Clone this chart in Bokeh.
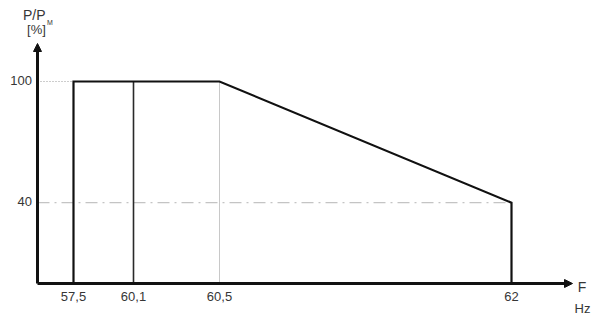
from bokeh.plotting import figure
from bokeh.models import Range1d, Arrow, NormalHead
from bokeh.core.properties import value
from bokeh.embed import file_html
from bokeh.resources import INLINE

# ---- data -------------------------------------------------------------
freq_labels = ["57,5", "60,1", "60,5", "62"]     # frequency ticks (Hz)
x_slot = [73, 133, 219, 511]                       # schematic (non-linear) axis slots
power_pct = [100, 100, 100, 40]                    # P/PM [%] at each frequency
y_ticks = [100, 40]
y_tick_labels = ["100", "40"]

W, H = 600, 317
px_per_unit = 2.02
axis_px = 283
y_top = axis_px / px_per_unit
y_bot = -(H - axis_px) / px_per_unit
x_axis_left = 37
x_axis_tip = 572
y_axis_tip = (axis_px - 43) / px_per_unit

FONT = value("Liberation Sans")
TXT = "#363636"

p = figure(width=W, height=H, output_backend="svg", toolbar_location=None,
           x_range=Range1d(0, W), y_range=Range1d(y_bot, y_top),
           min_border=0, min_border_left=0, min_border_right=0,
           min_border_top=0, min_border_bottom=0)
p.axis.visible = False
p.grid.visible = False
p.outline_line_color = None
p.background_fill_color = "white"
p.border_fill_color = "white"

# reference lines
p.line([x_axis_left, x_slot[0]], [y_ticks[0], y_ticks[0]], line_color="#9a9a9a",
       line_width=1, line_dash="1 2")
p.line([x_axis_left, x_slot[3]], [y_ticks[1], y_ticks[1]], line_color="#c4c4c4",
       line_width=1.2, line_dash="12 5 2 5")
p.line([x_slot[2], x_slot[2]], [0, power_pct[2]], line_color="#c8c8c8", line_width=1)

# 60,1 vertical
p.line([x_slot[1], x_slot[1]], [0, power_pct[1]], line_color="#2a2a2a", line_width=1.6)

# main operating envelope
p.line([x_slot[0], x_slot[0], x_slot[2], x_slot[3], x_slot[3]],
       [0, power_pct[0], power_pct[2], power_pct[3], 0],
       line_color="#111111", line_width=2.2, line_join="miter")

# axes with arrows
p.add_layout(Arrow(end=NormalHead(size=8, fill_color="#111111", line_color="#111111"),
                   x_start=x_axis_left, y_start=0, x_end=x_axis_tip, y_end=0,
                   line_color="#111111", line_width=3))
p.add_layout(Arrow(end=NormalHead(size=8, fill_color="#111111", line_color="#111111"),
                   x_start=x_axis_left, y_start=0, x_end=x_axis_left, y_end=y_axis_tip,
                   line_color="#111111", line_width=3))

# tick labels
p.text(x=[31.5] * len(y_ticks), y=[v + 0.4 for v in y_ticks], text=y_tick_labels,
       text_font=FONT, text_font_size="13px", text_color=TXT, text_align="right",
       text_baseline="middle")
p.text(x=x_slot, y=[-(296 - axis_px) / px_per_unit] * len(x_slot), text=freq_labels,
       text_font=FONT, text_font_size="13px", text_color=TXT, text_align="center",
       text_baseline="middle")

# axis titles
p.text(x=[22.5], y=[(axis_px - 14.5) / px_per_unit], text=["P/P"], text_font=FONT,
       text_font_size="14px", text_color=TXT, text_align="left", text_baseline="middle")
p.text(x=[46.5], y=[(axis_px - 21.5) / px_per_unit], text=["M"], text_font=FONT,
       text_font_size="7px", text_color=TXT, text_align="left", text_baseline="middle")
p.text(x=[36], y=[(axis_px - 29) / px_per_unit], text=["[%]"], text_font=FONT,
       text_font_size="13px", text_color=TXT, text_align="center", text_baseline="middle")
p.text(x=[581.5], y=[(axis_px - 286) / px_per_unit], text=["F"], text_font=FONT,
       text_font_size="14px", text_color=TXT, text_align="center", text_baseline="middle")
p.text(x=[582], y=[(axis_px - 308) / px_per_unit], text=["Hz"], text_font=FONT,
       text_font_size="13px", text_color=TXT, text_align="center", text_baseline="middle")

open("out.html", "w").write(file_html(p, INLINE))
